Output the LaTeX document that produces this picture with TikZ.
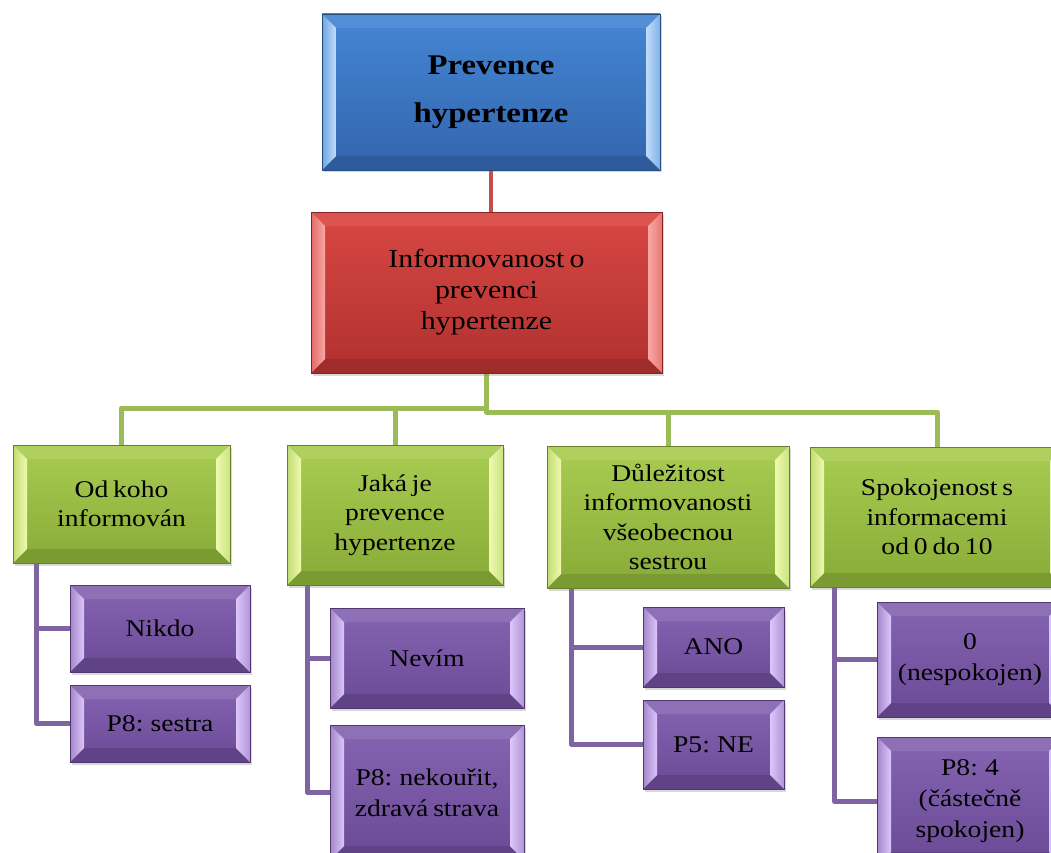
\documentclass[tikz,border=0pt]{standalone}
\usepackage{fontspec}
\setmainfont{Liberation Serif}[FakeStretch=1.15,WordSpace=0.7]
\usetikzlibrary{calc,shadows,backgrounds}

% face colours (top / bottom), bevel highlight and outline
\definecolor{blueTop}{HTML}{4586D4}
\definecolor{blueBot}{HTML}{3265AC}
\definecolor{blueHi}{HTML}{BFDDFA}
\definecolor{redTop}{HTML}{D84743}
\definecolor{redBot}{HTML}{B0312F}
\definecolor{redHi}{HTML}{F9A8A5}
\definecolor{grnTop}{HTML}{A9CC52}
\definecolor{grnBot}{HTML}{88AB38}
\definecolor{grnHi}{HTML}{EEFAB0}
\definecolor{purTop}{HTML}{8565B2}
\definecolor{purBot}{HTML}{6A4A95}
\definecolor{purHi}{HTML}{DCC6FA}
\definecolor{lineRed}{HTML}{C0504D}
\definecolor{lineGrn}{HTML}{9BBB59}
\definecolor{linePur}{HTML}{8064A2}

\tikzset{
  bevel/.style n args={3}{% #1 face top, #2 face bottom, #3 highlight
    rectangle, inner sep=0pt, align=center, text=black,
    draw=#2!75!black, line width=0.7pt,
    top color=#1, bottom color=#2,
    drop shadow={shadow xshift=1.5pt, shadow yshift=-2.5pt, opacity=0.3},
    path picture={
      \coordinate (bnw) at (path picture bounding box.north west);
      \coordinate (bne) at (path picture bounding box.north east);
      \coordinate (bsw) at (path picture bounding box.south west);
      \coordinate (bse) at (path picture bounding box.south east);
      % top and bottom strips
      \fill[#1!93!white] (bnw) -- (bne) -- ($(bne)+(-14pt,-14pt)$) -- ($(bnw)+(14pt,-14pt)$) -- cycle;
      \fill[#2!90!black] (bsw) -- (bse) -- ($(bse)+(-14pt,14pt)$) -- ($(bsw)+(14pt,14pt)$) -- cycle;
      % side strips
      \shade[left color=#1!65!#3, right color=#3]
        (bnw) -- (bsw) -- ($(bsw)+(14pt,14pt)$) -- ($(bnw)+(14pt,-14pt)$) -- cycle;
      \shade[left color=#3, right color=#3!50!#1]
        (bne) -- (bse) -- ($(bse)+(-14pt,14pt)$) -- ($(bne)+(-14pt,-14pt)$) -- cycle;
    }
  },
  topbox/.style={bevel={blueTop}{blueBot}{blueHi},
    font=\bfseries\fontsize{28.5}{48}\selectfont},
  redbox/.style={bevel={redTop}{redBot}{redHi},
    font=\fontsize{26}{31}\selectfont},
  grnbox/.style={bevel={grnTop}{grnBot}{grnHi},
    font=\fontsize{24}{29.5}\selectfont},
  purbox/.style={bevel={purTop}{purBot}{purHi},
    font=\fontsize{24}{31}\selectfont},
  redline/.style={draw=lineRed, line width=4pt},
  grnline/.style={draw=lineGrn, line width=5pt, line join=round},
  purline/.style={draw=linePur, line width=5pt, line join=round},
}

% box given by its corners (x1,y1) and (x2,y2)
\newcommand\orgbox[7]{%
  \pgfmathsetmacro\obx{(#3+#5)/2}%
  \pgfmathsetmacro\oby{(#4+#6)/2}%
  \pgfmathsetmacro\obw{#5-#3}%
  \pgfmathsetmacro\obh{#6-#4}%
  \node[#1, minimum width=\obw pt, minimum height=\obh pt] (#2) at (\obx,\oby) {#7};}

\begin{document}
\begin{tikzpicture}[x=1pt,y=-1pt]
\useasboundingbox (0,0) rectangle (1051,853);
\clip (0,0) rectangle (1051,853);

% root and second level
\orgbox{topbox}{top}{322}{14}{660}{170}{\raisebox{-4pt}{Prevence}\\\raisebox{-4pt}{hypertenze}}
\orgbox{redbox}{info}{311}{212}{662}{373}{Informovanost o\\prevenci\\hypertenze}

% third level
\orgbox{grnbox}{g1}{13}{445}{230}{563}{Od koho\\informován}
\orgbox{grnbox}{g2}{287}{445}{503}{585}{Jaká je\\prevence\\hypertenze}
\orgbox{grnbox}{g3}{547}{446}{789}{588}{Důležitost\\informovanosti\\všeobecnou\\sestrou}
\orgbox{grnbox}{g4}{810}{447}{1064}{587}{Spokojenost s\\informacemi\\od 0 do 10}

% answers
\orgbox{purbox}{p11}{70}{585}{250}{672}{Nikdo}
\orgbox{purbox}{p12}{70}{685}{250}{762}{P8: sestra}
\orgbox{purbox}{p21}{330}{608}{524}{708}{Nevím}
\orgbox{purbox}{p22}{330}{725}{524}{860}{P8: nekouřit,\\zdravá strava}
\orgbox{purbox}{p31}{643}{607}{784}{687}{ANO}
\orgbox{purbox}{p32}{643}{700}{784}{789}{P5: NE}
\orgbox{purbox}{p41}{877}{602}{1063}{717}{0\\(nespokojen)}
\orgbox{purbox}{p42}{877}{737}{1063}{866}{P8: 4\\(částečně\\spokojen)}

\begin{scope}[on background layer]
  \fill[white] (0,0) rectangle (1051,853);
  \coordinate (hl) at (0,408);
  \coordinate (hr) at (0,412);
  \draw[redline] (top.south) -- (top.south |- info.north);
  \draw[grnline] (info.south) -- (info.south |- hl) -| (g1.north);
  \draw[grnline] (g2.north) -- (g2.north |- hl);
  \draw[grnline] (info.south |- hl) -- (info.south |- hr) -| (g4.north);
  \draw[grnline] (g3.north) -- (g3.north |- hr);
  \draw[purline] ([xshift=24pt]g1.south west) |- (p11.west);
  \draw[purline] ([xshift=24pt]g1.south west) |- (p12.west);
  \draw[purline] ([xshift=21pt]g2.south west) |- (p21.west);
  \draw[purline] ([xshift=21pt]g2.south west) |- (p22.west);
  \draw[purline] ([xshift=25pt]g3.south west) |- (p31.west);
  \draw[purline] ([xshift=25pt]g3.south west) |- (p32.west);
  \draw[purline] ([xshift=25pt]g4.south west) |- (p41.west);
  \draw[purline] ([xshift=25pt]g4.south west) |- (p42.west);
\end{scope}
\end{tikzpicture}
\end{document}
